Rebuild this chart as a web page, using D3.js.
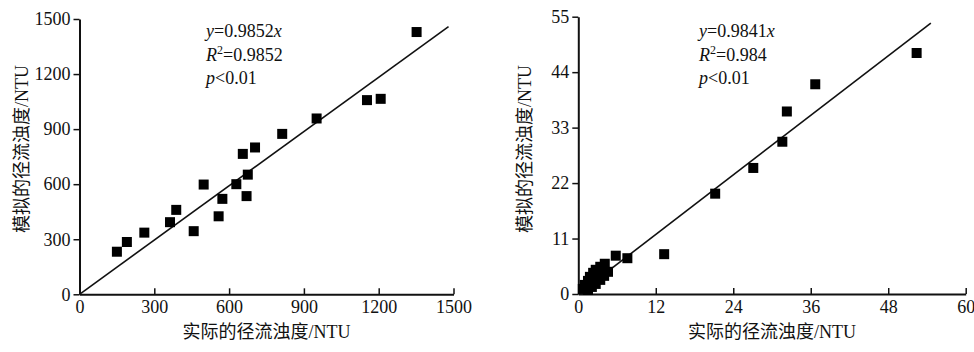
<!DOCTYPE html>
<html>
<head>
<meta charset="utf-8">
<script src="https://cdn.jsdelivr.net/npm/d3@7"></script>
<style>
  body { margin: 0; background: #fff; }
  svg { display: block; }
  text { font-family: "Liberation Serif", "Noto Sans CJK SC", serif; fill: #111; }
</style>
</head>
<body>
<svg id="chart" width="974" height="352"></svg>
<script>
// left panel: measured vs simulated turbidity (high range)
const leftActual = [150, 190, 260, 363, 388, 458, 498, 558, 573, 629, 655, 670, 675, 704, 813, 951, 1153, 1208, 1352]
const leftSim = [232, 285, 336, 393, 460, 344, 598, 425, 520, 600, 765, 535, 652, 800, 874, 958, 1058, 1065, 1429]
const leftTicks = [0, 300, 600, 900, 1200, 1500]
const leftSlope = 0.9852
const leftLineEnd = 1480
const leftStats = ['0.9852', '0.9852', '<0.01']

// right panel (low range)
const rightActual = [52.4, 36.7, 32.3, 31.6, 27.1, 21.2, 13.3, 7.6, 5.8,
  0.7, 1.0, 1.5, 1.8, 2.3, 2.7, 3.4, 4.1, 1.5, 2.1, 2.7, 3.4, 4.0, 4.6, 2.4, 3.0, 3.7]
const rightSim = [47.8, 41.6, 36.2, 30.2, 25.0, 19.9, 7.9, 7.1, 7.6,
  1.0, 1.8, 2.6, 3.4, 4.2, 4.8, 5.4, 6.0, 0.8, 1.4, 2.0, 2.8, 3.6, 4.4, 2.8, 3.6, 4.4]
const rightXTicks = [0, 12, 24, 36, 48, 60]
const rightYTicks = [0, 11, 22, 33, 44, 55]
const rightSlope = 0.9841
const rightLineEnd = 54.6
const rightStats = ['0.9841', '0.984', '<0.01']

const xTitle = '实际的径流浊度/NTU'
const yTitle = '模拟的径流浊度/NTU'

let svg = d3.select('#chart')
const serif = '"Liberation Serif", "Times New Roman", serif'

function drawPanel(opts) {
  let g = svg.append('g')
  let x = d3.scaleLinear().domain(opts.xDomain).range(opts.xRange)
  let y = d3.scaleLinear().domain(opts.yDomain).range(opts.yRange)

  // x axis, ticks pointing up into the plot
  let xAxis = g.append('g')
    .attr('transform', `translate(0,${opts.yRange[0]})`)
    .call(d3.axisBottom(x).tickValues(opts.xTicks).tickFormat(d3.format('d'))
      .tickSizeInner(-6).tickSizeOuter(0))
  xAxis.select('.domain').attr('stroke', '#111').attr('stroke-width', 2)
  xAxis.selectAll('.tick line').attr('stroke', '#111').attr('stroke-width', 1.5)
  xAxis.selectAll('.tick text')
    .style('font-family', serif).style('font-size', '18px')
    .attr('fill', '#111').attr('y', 19).attr('dy', 0)

  let yAxis = g.append('g')
    .attr('transform', `translate(${opts.xRange[0]},0)`)
    .call(d3.axisLeft(y).tickValues(opts.yTicks).tickFormat(d3.format('d'))
      .tickSizeInner(6).tickSizeOuter(0).tickPadding(3))
  yAxis.select('.domain').attr('stroke', '#111').attr('stroke-width', 2)
  yAxis.selectAll('.tick line').attr('stroke', '#111').attr('stroke-width', 1.5)
  yAxis.selectAll('.tick text')
    .style('font-family', serif).style('font-size', '18px')
    .attr('fill', '#111')

  // fitted line y = k x through origin
  g.append('line')
    .attr('x1', x(0)).attr('y1', y(0))
    .attr('x2', x(opts.lineEnd)).attr('y2', y(opts.lineEnd * opts.slope))
    .attr('stroke', '#111').attr('stroke-width', 1.6)

  let pts = opts.xs.map((v, i) => ({ a: v, s: opts.ys[i] }))
  let size = 10
  g.append('g').selectAll('rect')
    .data(pts)
    .enter().append('rect')
    .attr('x', d => x(d.a) - size / 2)
    .attr('y', d => y(d.s) - size / 2)
    .attr('width', size)
    .attr('height', size)
    .attr('fill', '#000')

  // stats text
  let tx = opts.statsX
  let t1 = g.append('text').attr('x', tx).attr('y', 37).style('font-size', '18px')
  t1.append('tspan').attr('font-style', 'italic').text('y')
  t1.append('tspan').text('=' + opts.stats[0])
  t1.append('tspan').attr('font-style', 'italic').text('x')

  let t2 = g.append('text').attr('x', tx).attr('y', 61).style('font-size', '18px')
  t2.append('tspan').attr('font-style', 'italic').text('R')
  t2.append('tspan').style('font-size', '12px').attr('dy', -7).text('2')
  t2.append('tspan').attr('dy', 7).text('=' + opts.stats[1])

  let t3 = g.append('text').attr('x', tx).attr('y', 84).style('font-size', '18px')
  t3.append('tspan').attr('font-style', 'italic').text('p')
  t3.append('tspan').text(opts.stats[2])

  // axis titles
  g.append('text')
    .attr('x', (opts.xRange[0] + opts.xRange[1]) / 2)
    .attr('y', 338)
    .attr('text-anchor', 'middle')
    .style('font-size', '18px')
    .text(xTitle)

  g.append('text')
    .attr('transform', `translate(${opts.yTitleX},149) rotate(-90)`)
    .attr('text-anchor', 'middle')
    .style('font-size', '18px')
    .text(yTitle)
}

drawPanel({
  xDomain: [0, 1500], xRange: [79.5, 453.5],
  yDomain: [0, 1500], yRange: [294.3, 19],
  xTicks: leftTicks, yTicks: leftTicks,
  xs: leftActual, ys: leftSim,
  slope: leftSlope, lineEnd: leftLineEnd,
  stats: leftStats, statsX: 206, yTitleX: 28
})

drawPanel({
  xDomain: [0, 60], xRange: [578.3, 965.7],
  yDomain: [0, 55], yRange: [294, 16.7],
  xTicks: rightXTicks, yTicks: rightYTicks,
  xs: rightActual, ys: rightSim,
  slope: rightSlope, lineEnd: rightLineEnd,
  stats: rightStats, statsX: 699, yTitleX: 531
})
</script>
</body>
</html>
